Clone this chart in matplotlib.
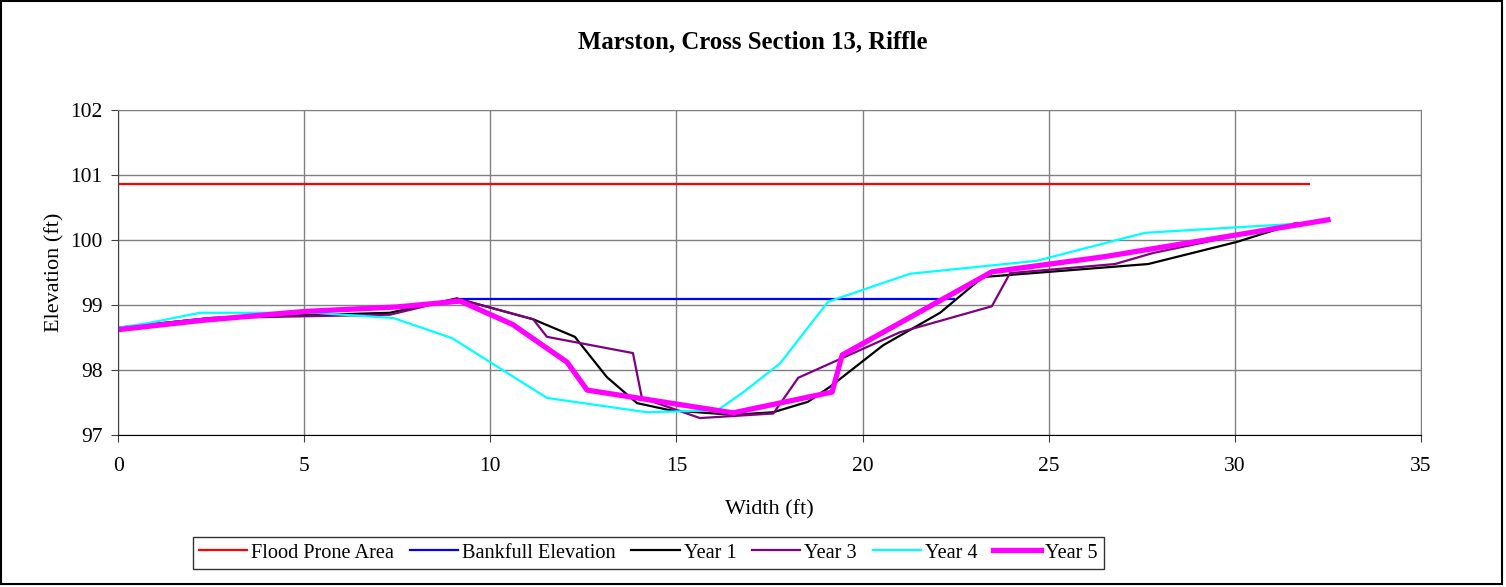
import matplotlib
matplotlib.use("Agg")
import matplotlib.pyplot as plt
from matplotlib.patches import Rectangle

plt.rcParams["font.family"] = ["Liberation Serif", "DejaVu Serif"]

# survey stations (ft) and elevations (ft)
flood_x = [0.0, 32.0]
flood_y = [100.86, 100.86]

bankfull_x = [9.19, 22.45]
bankfull_y = [99.09, 99.09]

year1_x = [0.0, 2.5, 7.3, 9.1, 11.15, 12.27, 13.13, 13.94, 14.83, 16.52, 17.6,
           18.53, 19.12, 20.55, 22.08, 23.23, 27.67, 30.05, 31.66]
year1_y = [98.65, 98.8, 98.88, 99.1, 98.78, 98.51, 97.89, 97.49, 97.38, 97.31, 97.35,
           97.51, 97.74, 98.38, 98.88, 99.43, 99.63, 99.97, 100.26]

year3_x = [0.0, 2.5, 7.3, 9.1, 11.15, 11.52, 13.83, 14.07, 15.63, 17.6, 18.27,
           21.0, 23.47, 23.96, 26.78, 27.8, 31.66]
year3_y = [98.65, 98.8, 98.85, 99.1, 98.78, 98.51, 98.26, 97.57, 97.26, 97.33, 97.88,
           98.58, 98.98, 99.49, 99.63, 99.8, 100.26]

year4_x = [0.0, 0.8, 2.2, 5.24, 7.39, 8.97, 11.52, 14.2, 16.1, 16.8, 17.78,
           19.07, 21.27, 24.68, 27.58, 31.66]
year4_y = [98.65, 98.72, 98.88, 98.88, 98.8, 98.49, 97.57, 97.35, 97.38, 97.66, 98.1,
           99.05, 99.48, 99.68, 100.11, 100.25]

year5_x = [0.0, 2.2, 5.0, 7.5, 9.19, 10.6, 12.06, 12.6, 16.52, 19.18, 19.45,
           23.47, 26.46, 32.5]
year5_y = [98.62, 98.76, 98.9, 98.97, 99.06, 98.7, 98.12, 97.69, 97.34, 97.66, 98.23,
           99.51, 99.74, 100.31]

fig = plt.figure(figsize=(15.06, 5.87), dpi=100)
ax = fig.add_axes([0.0784, 0.259, 0.8652, 0.5536])

ax.plot(flood_x, flood_y, color="#ff0000", lw=1.6, label="Flood Prone Area")
ax.plot(bankfull_x, bankfull_y, color="#0000ff", lw=1.6, label="Bankfull Elevation")
ax.plot(year1_x, year1_y, color="black", lw=1.6, label="Year 1")
ax.plot(year3_x, year3_y, color="#800080", lw=1.6, label="Year 3")
ax.plot(year4_x, year4_y, color="#00ffff", lw=1.6, label="Year 4")
ax.plot(year5_x, year5_y, color="#ff00ff", lw=3.8, label="Year 5")

ax.set_xlim(0, 35)
ax.set_ylim(97, 102)
ax.set_xticks(range(0, 36, 5))
ax.set_yticks(range(97, 103))
ax.grid(True, color="#808080", lw=1)
ax.set_axisbelow(True)
ax.tick_params(labelsize=15.5, length=5, color="#404040")
ax.tick_params(axis="x", pad=11)
ax.tick_params(axis="y", pad=6)
for side in ("top", "right"):
    ax.spines[side].set_color("#808080")
ax.spines["left"].set_color("#404040")
ax.spines["bottom"].set_color("black")

ax.set_xlabel("Width (ft)", fontsize=16, labelpad=17)
ax.set_ylabel("Elevation (ft)", fontsize=16, labelpad=4)
fig.text(0.5, 0.928, "Marston, Cross Section 13, Riffle", ha="center", va="center",
         fontsize=17.8, fontweight="bold")

leg = fig.legend(loc="center", bbox_to_anchor=(0.4306, 0.058), ncol=6, fontsize=14.6,
                 frameon=True, fancybox=False, handlelength=2.37, handletextpad=0.2,
                 columnspacing=0.78, borderpad=0.3, borderaxespad=0)
leg.get_frame().set_edgecolor("black")
leg.get_frame().set_linewidth(1)

# outer chart border
fig.patches.append(Rectangle((1 / 1506, 3 / 587), 1501 / 1506, 583 / 587,
                             transform=fig.transFigure, fill=False,
                             edgecolor="black", lw=1.5))

fig.savefig("out.png", dpi=100)
